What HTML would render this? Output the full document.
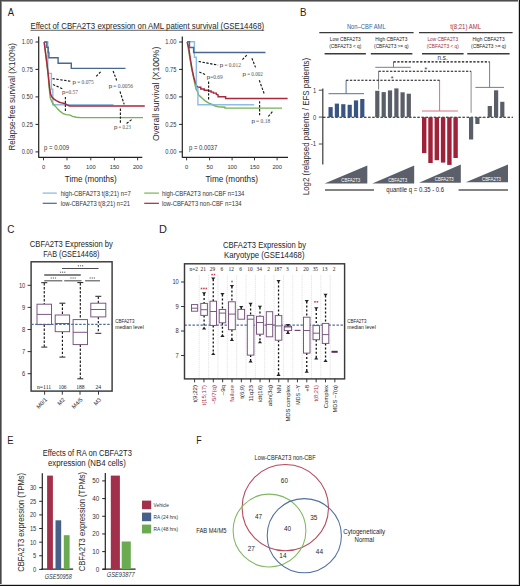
<!DOCTYPE html>
<html><head><meta charset="utf-8"><style>
html,body{margin:0;padding:0;background:#fff;}
body{width:520px;height:586px;overflow:hidden;position:relative;}
svg{position:absolute;left:0;top:0;font-family:"Liberation Sans", sans-serif;}
</style></head><body>
<svg width="520" height="586" viewBox="0 0 520 586" fill="#1e1e1e">
<rect x="0" y="0" width="520" height="586" fill="#fff"/>
<text x="7.85" y="16.20" font-size="11" textLength="6.30" lengthAdjust="spacingAndGlyphs" >A</text>
<text x="30.40" y="29.00" font-size="8.6" textLength="233.80" lengthAdjust="spacingAndGlyphs" >Effect of CBFA2T3 expression on AML patient survival (GSE14468)</text>
<line x1="30.40" y1="30.30" x2="264.20" y2="30.30" stroke="#222" stroke-width="0.7" />
<line x1="38.70" y1="36.50" x2="38.70" y2="157.80" stroke="#222" stroke-width="1.2" />
<line x1="38.70" y1="157.30" x2="142.30" y2="157.30" stroke="#222" stroke-width="1.2" />
<line x1="35.50" y1="42.00" x2="38.70" y2="42.00" stroke="#222" stroke-width="1.0" />
<text x="32.90" y="44.30" font-size="6.4" text-anchor="end" fill="#333" textLength="11.10" lengthAdjust="spacingAndGlyphs" >1.00</text>
<line x1="35.50" y1="69.40" x2="38.70" y2="69.40" stroke="#222" stroke-width="1.0" />
<text x="32.90" y="71.70" font-size="6.4" text-anchor="end" fill="#333" textLength="11.10" lengthAdjust="spacingAndGlyphs" >0.75</text>
<line x1="35.50" y1="96.90" x2="38.70" y2="96.90" stroke="#222" stroke-width="1.0" />
<text x="32.90" y="99.20" font-size="6.4" text-anchor="end" fill="#333" textLength="11.10" lengthAdjust="spacingAndGlyphs" >0.50</text>
<line x1="35.50" y1="124.40" x2="38.70" y2="124.40" stroke="#222" stroke-width="1.0" />
<text x="32.90" y="126.70" font-size="6.4" text-anchor="end" fill="#333" textLength="11.10" lengthAdjust="spacingAndGlyphs" >0.25</text>
<line x1="35.50" y1="151.90" x2="38.70" y2="151.90" stroke="#222" stroke-width="1.0" />
<text x="32.90" y="154.20" font-size="6.4" text-anchor="end" fill="#333" textLength="11.10" lengthAdjust="spacingAndGlyphs" >0.00</text>
<line x1="43.50" y1="157.30" x2="43.50" y2="160.30" stroke="#222" stroke-width="0.9" />
<text x="43.60" y="169.20" font-size="6.2" text-anchor="middle" fill="#333" textLength="3.20" lengthAdjust="spacingAndGlyphs" >0</text>
<line x1="67.00" y1="157.30" x2="67.00" y2="160.30" stroke="#222" stroke-width="0.9" />
<text x="67.10" y="169.20" font-size="6.2" text-anchor="middle" fill="#333" textLength="6.40" lengthAdjust="spacingAndGlyphs" >50</text>
<line x1="90.80" y1="157.30" x2="90.80" y2="160.30" stroke="#222" stroke-width="0.9" />
<text x="90.90" y="169.20" font-size="6.2" text-anchor="middle" fill="#333" textLength="9.60" lengthAdjust="spacingAndGlyphs" >100</text>
<line x1="114.40" y1="157.30" x2="114.40" y2="160.30" stroke="#222" stroke-width="0.9" />
<text x="114.50" y="169.20" font-size="6.2" text-anchor="middle" fill="#333" textLength="9.60" lengthAdjust="spacingAndGlyphs" >150</text>
<line x1="137.60" y1="157.30" x2="137.60" y2="160.30" stroke="#222" stroke-width="0.9" />
<text x="137.70" y="169.20" font-size="6.2" text-anchor="middle" fill="#333" textLength="9.60" lengthAdjust="spacingAndGlyphs" >200</text>
<text x="14.60" y="96.80" font-size="8.4" text-anchor="middle" fill="#2a2a2a" textLength="107.60" lengthAdjust="spacingAndGlyphs" transform="rotate(-90 14.60 96.80)" >Relapse-free survival (X100%)</text>
<text x="90.75" y="181.80" font-size="8.4" text-anchor="middle" textLength="51.90" lengthAdjust="spacingAndGlyphs" >Time (months)</text>
<line x1="182.30" y1="36.50" x2="182.30" y2="157.80" stroke="#222" stroke-width="1.2" />
<line x1="182.30" y1="157.30" x2="288.00" y2="157.30" stroke="#222" stroke-width="1.2" />
<line x1="179.10" y1="42.00" x2="182.30" y2="42.00" stroke="#222" stroke-width="1.0" />
<text x="176.40" y="44.30" font-size="6.4" text-anchor="end" fill="#333" textLength="11.10" lengthAdjust="spacingAndGlyphs" >1.00</text>
<line x1="179.10" y1="69.40" x2="182.30" y2="69.40" stroke="#222" stroke-width="1.0" />
<text x="176.40" y="71.70" font-size="6.4" text-anchor="end" fill="#333" textLength="11.10" lengthAdjust="spacingAndGlyphs" >0.75</text>
<line x1="179.10" y1="96.90" x2="182.30" y2="96.90" stroke="#222" stroke-width="1.0" />
<text x="176.40" y="99.20" font-size="6.4" text-anchor="end" fill="#333" textLength="11.10" lengthAdjust="spacingAndGlyphs" >0.50</text>
<line x1="179.10" y1="124.40" x2="182.30" y2="124.40" stroke="#222" stroke-width="1.0" />
<text x="176.40" y="126.70" font-size="6.4" text-anchor="end" fill="#333" textLength="11.10" lengthAdjust="spacingAndGlyphs" >0.25</text>
<line x1="179.10" y1="151.90" x2="182.30" y2="151.90" stroke="#222" stroke-width="1.0" />
<text x="176.40" y="154.20" font-size="6.4" text-anchor="end" fill="#333" textLength="11.10" lengthAdjust="spacingAndGlyphs" >0.00</text>
<line x1="186.60" y1="157.30" x2="186.60" y2="160.30" stroke="#222" stroke-width="0.9" />
<text x="186.70" y="169.20" font-size="6.2" text-anchor="middle" fill="#333" textLength="3.20" lengthAdjust="spacingAndGlyphs" >0</text>
<line x1="209.60" y1="157.30" x2="209.60" y2="160.30" stroke="#222" stroke-width="0.9" />
<text x="209.70" y="169.20" font-size="6.2" text-anchor="middle" fill="#333" textLength="6.40" lengthAdjust="spacingAndGlyphs" >50</text>
<line x1="232.10" y1="157.30" x2="232.10" y2="160.30" stroke="#222" stroke-width="0.9" />
<text x="232.20" y="169.20" font-size="6.2" text-anchor="middle" fill="#333" textLength="9.60" lengthAdjust="spacingAndGlyphs" >100</text>
<line x1="254.50" y1="157.30" x2="254.50" y2="160.30" stroke="#222" stroke-width="0.9" />
<text x="254.60" y="169.20" font-size="6.2" text-anchor="middle" fill="#333" textLength="9.60" lengthAdjust="spacingAndGlyphs" >150</text>
<line x1="277.10" y1="157.30" x2="277.10" y2="160.30" stroke="#222" stroke-width="0.9" />
<text x="277.20" y="169.20" font-size="6.2" text-anchor="middle" fill="#333" textLength="9.60" lengthAdjust="spacingAndGlyphs" >200</text>
<text x="158.60" y="93.90" font-size="8.4" text-anchor="middle" fill="#2a2a2a" textLength="94.40" lengthAdjust="spacingAndGlyphs" transform="rotate(-90 158.60 93.90)" >Overall survival (X100%)</text>
<text x="231.70" y="181.80" font-size="8.4" text-anchor="middle" textLength="52.60" lengthAdjust="spacingAndGlyphs" >Time (months)</text>
<path d="M44.00,42.00 L47.80,42.00 L47.80,73.40 L51.40,73.40 L51.40,89.20 L52.80,89.20 L52.80,104.70 L113.50,104.70 L113.50,104.70" stroke="#80b6e0" stroke-width="1.4" fill="none" opacity="0.9"/>
<path d="M44.20,42.00 L45.50,53.00 L47.00,65.00 L48.30,77.00 L49.00,86.00 L50.20,97.50 L51.70,101.40 L53.20,104.10 L55.50,106.40 L57.80,109.10 L60.20,111.40 L63.20,113.70 L66.30,114.60 L70.20,115.10 L72.50,116.40 L76.30,117.20 L80.20,117.60 L143.00,117.60" stroke="#76b258" stroke-width="1.4" fill="none" />
<path d="M44.20,42.00 L45.50,52.50 L47.00,64.00 L48.30,75.00 L49.00,82.00 L49.60,88.00 L50.50,93.70 L51.70,96.80 L54.00,99.10 L56.30,100.60 L59.40,102.20 L62.50,103.10 L65.20,103.70 L67.10,104.90 L69.40,106.00 L144.80,106.00" stroke="#a8283c" stroke-width="1.5" fill="none" />
<path d="M44.20,42.00 L46.80,42.00 L46.80,47.30 L48.20,47.30 L48.20,52.40 L48.90,52.40 L48.90,57.80 L58.10,57.80 L58.10,63.20 L71.30,63.20 L71.30,68.40 L125.50,68.40 L125.50,68.40" stroke="#4a6790" stroke-width="1.4" fill="none" />
<path d="M187.20,42.00 L188.80,52.00 L190.30,61.00 L191.70,69.00 L193.30,76.00 L194.80,83.70 L196.00,89.10 L197.50,91.40 L198.70,95.20 L200.20,96.40 L202.20,98.30 L204.80,100.60 L208.30,102.90 L212.20,104.50 L215.20,106.00 L218.30,106.80 L225.00,107.20 L225.00,108.10 L282.00,108.10" stroke="#76b258" stroke-width="1.4" fill="none" />
<path d="M187.20,42.00 L188.70,47.50 L190.40,59.00 L192.10,69.40 L193.80,77.50 L195.60,83.30 L197.10,86.70 L198.50,87.30 L200.80,87.30 L200.80,89.00 L204.20,89.00 L204.20,90.20 L207.70,90.20 L208.60,91.00 L211.10,91.00 L211.10,92.10 L213.40,92.10 L213.40,93.10 L216.30,93.10 L216.30,94.20 L218.10,95.00 L218.10,96.80 L225.60,96.80 L225.60,98.40 L287.60,98.40" stroke="#a8283c" stroke-width="1.45" fill="none" />
<path d="M187.20,41.80 L194.40,41.80 L194.40,57.30 L196.30,57.30 L196.30,88.00 L197.90,88.00 L197.90,104.80 L254.20,104.80" stroke="#80b6e0" stroke-width="1.4" fill="none" opacity="0.9"/>
<path d="M187.20,41.80 L189.50,41.80 L189.50,47.50 L193.60,47.50 L193.60,52.50 L265.50,52.50 L265.50,52.50" stroke="#4a6790" stroke-width="1.4" fill="none" />
<line x1="52.50" y1="78.60" x2="71.50" y2="81.40" stroke="#1a1a1a" stroke-width="1.15" stroke-dasharray="2.4,1.5" />
<text x="72.60" y="83.60" font-size="6.2" fill="#333" >p</text>
<text x="77.20" y="83.60" font-size="5.9" fill="#555" textLength="16.60" lengthAdjust="spacingAndGlyphs" font-family='"Liberation Serif", serif' >= 0.075</text>
<line x1="53.00" y1="84.50" x2="62.50" y2="88.80" stroke="#1a1a1a" stroke-width="1.15" stroke-dasharray="2.4,1.5" />
<text x="62.00" y="93.70" font-size="6.2" fill="#333" >p</text>
<text x="65.40" y="93.70" font-size="5.9" fill="#555" textLength="12.50" lengthAdjust="spacingAndGlyphs" font-family='"Liberation Serif", serif' >=0.57</text>
<line x1="65.40" y1="96.90" x2="65.40" y2="112.50" stroke="#1a1a1a" stroke-width="1.15" stroke-dasharray="2.4,1.5" />
<line x1="96.20" y1="76.30" x2="101.20" y2="71.20" stroke="#1a1a1a" stroke-width="1.15" stroke-dasharray="2.4,1.5" />
<line x1="113.10" y1="71.00" x2="116.70" y2="80.50" stroke="#1a1a1a" stroke-width="1.15" stroke-dasharray="2.4,1.5" />
<text x="108.70" y="88.30" font-size="6.2" fill="#333" >p</text>
<text x="113.30" y="88.30" font-size="5.9" fill="#555" textLength="19.70" lengthAdjust="spacingAndGlyphs" font-family='"Liberation Serif", serif' >= 0.0056</text>
<line x1="120.00" y1="91.50" x2="124.20" y2="104.40" stroke="#1a1a1a" stroke-width="1.15" stroke-dasharray="2.4,1.5" />
<line x1="120.40" y1="108.60" x2="120.40" y2="123.50" stroke="#1a1a1a" stroke-width="1.15" stroke-dasharray="2.4,1.5" />
<line x1="126.60" y1="123.50" x2="132.00" y2="119.30" stroke="#1a1a1a" stroke-width="1.15" stroke-dasharray="2.4,1.5" />
<text x="113.90" y="128.80" font-size="6.2" fill="#333" >p</text>
<text x="118.50" y="128.80" font-size="5.9" fill="#555" textLength="12.30" lengthAdjust="spacingAndGlyphs" font-family='"Liberation Serif", serif' >= 0.23</text>
<text x="44.00" y="149.60" font-size="7.0" fill="#333" textLength="25.10" lengthAdjust="spacingAndGlyphs" >p = 0.009</text>
<line x1="198.60" y1="61.50" x2="218.10" y2="65.10" stroke="#1a1a1a" stroke-width="1.15" stroke-dasharray="2.4,1.5" />
<text x="219.80" y="67.30" font-size="6.2" fill="#333" >p</text>
<text x="224.40" y="67.30" font-size="5.9" fill="#555" textLength="16.50" lengthAdjust="spacingAndGlyphs" font-family='"Liberation Serif", serif' >= 0.012</text>
<line x1="199.30" y1="72.00" x2="205.80" y2="74.90" stroke="#1a1a1a" stroke-width="1.15" stroke-dasharray="2.4,1.5" />
<text x="206.80" y="78.80" font-size="6.2" fill="#333" >p</text>
<text x="210.20" y="78.80" font-size="5.9" fill="#555" textLength="12.50" lengthAdjust="spacingAndGlyphs" font-family='"Liberation Serif", serif' >=0.69</text>
<line x1="208.60" y1="81.50" x2="208.60" y2="100.90" stroke="#1a1a1a" stroke-width="1.15" stroke-dasharray="2.4,1.5" />
<line x1="242.40" y1="59.70" x2="247.00" y2="54.90" stroke="#1a1a1a" stroke-width="1.15" stroke-dasharray="2.4,1.5" />
<line x1="251.90" y1="58.20" x2="255.50" y2="67.40" stroke="#1a1a1a" stroke-width="1.15" stroke-dasharray="2.4,1.5" />
<text x="242.60" y="76.40" font-size="6.2" fill="#333" >p</text>
<text x="247.20" y="76.40" font-size="5.9" fill="#555" textLength="15.60" lengthAdjust="spacingAndGlyphs" font-family='"Liberation Serif", serif' >= 0.002</text>
<line x1="259.30" y1="80.30" x2="264.50" y2="94.60" stroke="#1a1a1a" stroke-width="1.15" stroke-dasharray="2.4,1.5" />
<line x1="259.60" y1="101.20" x2="259.60" y2="116.70" stroke="#1a1a1a" stroke-width="1.15" stroke-dasharray="2.4,1.5" />
<line x1="268.30" y1="116.50" x2="272.90" y2="111.00" stroke="#1a1a1a" stroke-width="1.15" stroke-dasharray="2.4,1.5" />
<text x="251.50" y="123.00" font-size="6.2" fill="#333" >p</text>
<text x="256.10" y="123.00" font-size="5.9" fill="#555" textLength="14.10" lengthAdjust="spacingAndGlyphs" font-family='"Liberation Serif", serif' >= 0.18</text>
<text x="189.00" y="149.60" font-size="7.0" fill="#333" textLength="28.20" lengthAdjust="spacingAndGlyphs" >p = 0.0037</text>
<line x1="42.70" y1="193.10" x2="56.80" y2="193.10" stroke="#80b6e0" stroke-width="1.2" />
<text x="60.70" y="195.90" font-size="6.6" fill="#333" textLength="70.20" lengthAdjust="spacingAndGlyphs" >high-CBFA2T3 t(8;21) n=7</text>
<line x1="42.70" y1="203.30" x2="56.80" y2="203.30" stroke="#4a6790" stroke-width="1.2" />
<text x="60.70" y="205.60" font-size="6.6" fill="#333" textLength="69.30" lengthAdjust="spacingAndGlyphs" >low-CBFA2T3 t(8;21) n=21</text>
<line x1="144.20" y1="193.10" x2="158.90" y2="193.10" stroke="#76b258" stroke-width="1.2" />
<text x="161.90" y="195.90" font-size="6.6" fill="#333" textLength="82.50" lengthAdjust="spacingAndGlyphs" >high-CBFA2T3 non-CBF n=134</text>
<line x1="144.20" y1="203.30" x2="158.90" y2="203.30" stroke="#a8283c" stroke-width="1.2" />
<text x="161.90" y="205.60" font-size="6.6" fill="#333" textLength="79.70" lengthAdjust="spacingAndGlyphs" >low-CBFA2T3 non-CBF n=134</text>
<text x="300.10" y="16.30" font-size="11" textLength="6.50" lengthAdjust="spacingAndGlyphs" >B</text>
<text x="346.90" y="28.60" font-size="7.2" fill="#40609a" textLength="38.80" lengthAdjust="spacingAndGlyphs" >Non–CBF AML</text>
<text x="450.20" y="28.60" font-size="7.2" fill="#a62c42" textLength="30.80" lengthAdjust="spacingAndGlyphs" >t(8;21) AML</text>
<line x1="319.30" y1="32.60" x2="413.60" y2="32.60" stroke="#3a3a3a" stroke-width="1.4" />
<line x1="419.00" y1="32.60" x2="512.60" y2="32.60" stroke="#3a3a3a" stroke-width="1.4" />
<text x="345.30" y="41.30" font-size="5.5" text-anchor="middle" textLength="31.00" lengthAdjust="spacingAndGlyphs" >Low CBFA2T3</text>
<text x="345.30" y="47.50" font-size="5.5" text-anchor="middle" textLength="32.20" lengthAdjust="spacingAndGlyphs" >(CBFA2T3 &lt; q)</text>
<text x="391.40" y="41.30" font-size="5.5" text-anchor="middle" textLength="32.20" lengthAdjust="spacingAndGlyphs" >High CBFA2T3</text>
<text x="391.40" y="47.50" font-size="5.5" text-anchor="middle" textLength="34.60" lengthAdjust="spacingAndGlyphs" >(CBFA2T3 &gt;= q)</text>
<text x="442.80" y="41.30" font-size="5.5" text-anchor="middle" fill="#a62c42" textLength="30.70" lengthAdjust="spacingAndGlyphs" >Low CBFA2T3</text>
<text x="442.80" y="47.50" font-size="5.5" text-anchor="middle" fill="#a62c42" textLength="32.10" lengthAdjust="spacingAndGlyphs" >(CBFA2T3 &lt; q)</text>
<text x="488.60" y="41.30" font-size="5.5" text-anchor="middle" textLength="32.10" lengthAdjust="spacingAndGlyphs" >High CBFA2T3</text>
<text x="488.60" y="47.50" font-size="5.5" text-anchor="middle" textLength="35.00" lengthAdjust="spacingAndGlyphs" >(CBFA2T3 &gt;= q)</text>
<line x1="324.60" y1="53.75" x2="365.90" y2="53.75" stroke="#3a3a3a" stroke-width="1.4" />
<line x1="370.80" y1="53.75" x2="412.40" y2="53.75" stroke="#3a3a3a" stroke-width="1.4" />
<line x1="422.00" y1="53.75" x2="463.60" y2="53.75" stroke="#3a3a3a" stroke-width="1.4" />
<line x1="467.30" y1="53.75" x2="509.60" y2="53.75" stroke="#3a3a3a" stroke-width="1.4" />
<line x1="322.80" y1="88.50" x2="322.80" y2="164.60" stroke="#3a3a3a" stroke-width="1.2" />
<line x1="318.80" y1="90.20" x2="322.80" y2="90.20" stroke="#3a3a3a" stroke-width="0.9" />
<text x="316.20" y="92.60" font-size="6.6" text-anchor="end" fill="#333" textLength="3.20" lengthAdjust="spacingAndGlyphs" >1</text>
<line x1="318.80" y1="117.10" x2="322.80" y2="117.10" stroke="#3a3a3a" stroke-width="0.9" />
<text x="316.20" y="119.50" font-size="6.6" text-anchor="end" fill="#333" textLength="3.20" lengthAdjust="spacingAndGlyphs" >0</text>
<line x1="318.80" y1="144.00" x2="322.80" y2="144.00" stroke="#3a3a3a" stroke-width="0.9" />
<text x="316.20" y="146.40" font-size="6.6" text-anchor="end" fill="#333" textLength="5.40" lengthAdjust="spacingAndGlyphs" >-1</text>
<text x="308.90" y="126.50" font-size="8.2" text-anchor="middle" fill="#2a2a2a" textLength="137.40" lengthAdjust="spacingAndGlyphs" transform="rotate(-90 308.90 126.50)" >Log2 (relapsed patients / EFS patients)</text>
<line x1="323.00" y1="117.20" x2="513.00" y2="117.20" stroke="#111" stroke-width="1.15" stroke-dasharray="2.5,1.6" />
<rect x="328.50" y="107.10" width="4.20" height="10.10" fill="#3a5582" stroke="none" stroke-width="0" />
<rect x="334.80" y="103.60" width="4.20" height="13.60" fill="#3a5582" stroke="none" stroke-width="0" />
<rect x="341.20" y="104.20" width="4.20" height="13.00" fill="#3a5582" stroke="none" stroke-width="0" />
<rect x="347.60" y="104.80" width="4.20" height="12.40" fill="#3a5582" stroke="none" stroke-width="0" />
<rect x="353.90" y="100.40" width="4.20" height="16.80" fill="#3a5582" stroke="none" stroke-width="0" />
<rect x="360.20" y="99.00" width="4.20" height="18.20" fill="#3a5582" stroke="none" stroke-width="0" />
<rect x="375.20" y="90.80" width="4.20" height="26.40" fill="#5a5e68" stroke="none" stroke-width="0" />
<rect x="381.60" y="92.10" width="4.20" height="25.10" fill="#5a5e68" stroke="none" stroke-width="0" />
<rect x="387.90" y="90.40" width="4.20" height="26.80" fill="#5a5e68" stroke="none" stroke-width="0" />
<rect x="394.30" y="88.40" width="4.20" height="28.80" fill="#5a5e68" stroke="none" stroke-width="0" />
<rect x="400.50" y="92.30" width="4.20" height="24.90" fill="#5a5e68" stroke="none" stroke-width="0" />
<rect x="406.70" y="93.70" width="4.20" height="23.50" fill="#5a5e68" stroke="none" stroke-width="0" />
<rect x="422.00" y="117.20" width="4.40" height="35.90" fill="#a0223a" stroke="none" stroke-width="0" />
<rect x="428.30" y="117.20" width="4.40" height="45.80" fill="#a0223a" stroke="none" stroke-width="0" />
<rect x="434.60" y="117.20" width="4.40" height="43.00" fill="#a0223a" stroke="none" stroke-width="0" />
<rect x="440.90" y="117.20" width="4.40" height="45.40" fill="#a0223a" stroke="none" stroke-width="0" />
<rect x="447.20" y="117.20" width="4.40" height="47.70" fill="#a0223a" stroke="none" stroke-width="0" />
<rect x="453.40" y="117.20" width="4.40" height="40.80" fill="#a0223a" stroke="none" stroke-width="0" />
<rect x="469.00" y="117.20" width="4.20" height="22.30" fill="#5a5e68" stroke="none" stroke-width="0" />
<rect x="475.30" y="117.20" width="4.20" height="6.80" fill="#5a5e68" stroke="none" stroke-width="0" />
<rect x="481.60" y="117.20" width="4.20" height="0.40" fill="#5a5e68" stroke="none" stroke-width="0" />
<rect x="487.70" y="106.00" width="4.20" height="11.20" fill="#5a5e68" stroke="none" stroke-width="0" />
<rect x="494.00" y="90.30" width="4.20" height="26.90" fill="#5a5e68" stroke="none" stroke-width="0" />
<rect x="500.20" y="101.80" width="4.20" height="15.40" fill="#5a5e68" stroke="none" stroke-width="0" />
<line x1="328.50" y1="93.70" x2="364.00" y2="93.70" stroke="#56709a" stroke-width="1.0" />
<line x1="346.10" y1="93.70" x2="346.10" y2="80.30" stroke="#56709a" stroke-width="1.0" />
<line x1="375.30" y1="67.30" x2="410.80" y2="67.30" stroke="#7a7e88" stroke-width="1.0" />
<line x1="393.50" y1="67.30" x2="393.50" y2="61.90" stroke="#7a7e88" stroke-width="1.0" />
<line x1="378.60" y1="71.30" x2="378.60" y2="89.50" stroke="#7a7e88" stroke-width="1.0" />
<line x1="422.00" y1="111.00" x2="457.90" y2="111.00" stroke="#d87080" stroke-width="1.0" />
<line x1="439.60" y1="111.00" x2="439.60" y2="80.30" stroke="#d87080" stroke-width="1.0" />
<line x1="471.10" y1="71.30" x2="471.10" y2="112.80" stroke="#8a8e98" stroke-width="1.0" />
<line x1="475.40" y1="87.40" x2="504.00" y2="87.40" stroke="#7a7e88" stroke-width="1.0" />
<line x1="489.60" y1="87.40" x2="489.60" y2="61.90" stroke="#7a7e88" stroke-width="1.0" />
<line x1="346.10" y1="80.30" x2="439.60" y2="80.30" stroke="#111" stroke-width="1.1" stroke-dasharray="2.3,1.5" />
<line x1="378.60" y1="71.30" x2="471.10" y2="71.30" stroke="#111" stroke-width="1.1" stroke-dasharray="2.3,1.5" />
<line x1="393.50" y1="61.90" x2="489.60" y2="61.90" stroke="#111" stroke-width="1.1" stroke-dasharray="2.3,1.5" />
<text x="392.00" y="81.00" font-size="7" text-anchor="middle" fill="#333" >*</text>
<text x="425.80" y="72.00" font-size="7" text-anchor="middle" fill="#333" >*</text>
<text x="442.70" y="60.20" font-size="6.4" text-anchor="middle" fill="#333" >n.s.</text>
<path d="M324.60,183.50 L367.30,165.60 L367.30,183.50 Z" fill="#5a5f6a"/>
<text x="350.80" y="181.90" font-size="5.0" text-anchor="middle" fill="#fff" textLength="19.00" lengthAdjust="spacingAndGlyphs" >CBFA2T3</text>
<path d="M372.30,183.50 L414.20,165.60 L414.20,183.50 Z" fill="#5a5f6a"/>
<text x="397.70" y="181.90" font-size="5.0" text-anchor="middle" fill="#fff" textLength="19.00" lengthAdjust="spacingAndGlyphs" >CBFA2T3</text>
<path d="M419.00,182.80 L460.80,164.60 L460.80,182.80 Z" fill="#5a5f6a"/>
<text x="444.30" y="181.20" font-size="5.0" text-anchor="middle" fill="#fff" textLength="19.00" lengthAdjust="spacingAndGlyphs" >CBFA2T3</text>
<path d="M465.80,182.30 L508.00,164.50 L508.00,182.30 Z" fill="#5a5f6a"/>
<text x="491.50" y="180.70" font-size="5.0" text-anchor="middle" fill="#fff" textLength="19.00" lengthAdjust="spacingAndGlyphs" >CBFA2T3</text>
<line x1="325.00" y1="189.90" x2="374.00" y2="189.90" stroke="#5a5a5a" stroke-width="1.5" />
<line x1="458.60" y1="189.90" x2="508.00" y2="189.90" stroke="#5a5a5a" stroke-width="1.5" />
<text x="415.20" y="192.30" font-size="6.4" text-anchor="middle" textLength="57.70" lengthAdjust="spacingAndGlyphs" >quantile q = 0.35 - 0.6</text>
<text x="7.20" y="232.60" font-size="11" textLength="7.20" lengthAdjust="spacingAndGlyphs" >C</text>
<text x="29.80" y="247.10" font-size="8.4" textLength="83.10" lengthAdjust="spacingAndGlyphs" >CBFA2T3 Expression by</text>
<text x="43.30" y="257.30" font-size="8.4" textLength="56.10" lengthAdjust="spacingAndGlyphs" >FAB (GSE14468)</text>
<rect x="31.1" y="261.8" width="81.0" height="129.3" fill="none" stroke="#3a3a3a" stroke-width="1.45"/>
<line x1="27.60" y1="285.30" x2="31.20" y2="285.30" stroke="#222" stroke-width="0.9" />
<text x="25.30" y="287.65" font-size="6.6" text-anchor="end" fill="#333" textLength="6.40" lengthAdjust="spacingAndGlyphs" >10</text>
<line x1="27.60" y1="307.40" x2="31.20" y2="307.40" stroke="#222" stroke-width="0.9" />
<text x="25.30" y="309.75" font-size="6.6" text-anchor="end" fill="#333" textLength="3.20" lengthAdjust="spacingAndGlyphs" >9</text>
<line x1="27.60" y1="329.50" x2="31.20" y2="329.50" stroke="#222" stroke-width="0.9" />
<text x="25.30" y="331.85" font-size="6.6" text-anchor="end" fill="#333" textLength="3.20" lengthAdjust="spacingAndGlyphs" >8</text>
<line x1="27.60" y1="351.60" x2="31.20" y2="351.60" stroke="#222" stroke-width="0.9" />
<text x="25.30" y="353.95" font-size="6.6" text-anchor="end" fill="#333" textLength="3.20" lengthAdjust="spacingAndGlyphs" >7</text>
<line x1="27.60" y1="373.70" x2="31.20" y2="373.70" stroke="#222" stroke-width="0.9" />
<text x="25.30" y="376.05" font-size="6.6" text-anchor="end" fill="#333" textLength="3.20" lengthAdjust="spacingAndGlyphs" >6</text>
<line x1="62.00" y1="268.50" x2="98.50" y2="268.50" stroke="#4a4a4a" stroke-width="1.0" />
<rect x="77.80" y="265.30" width="1.20" height="1.00" fill="#555" stroke="none" stroke-width="0" />
<rect x="79.90" y="265.30" width="1.20" height="1.00" fill="#555" stroke="none" stroke-width="0" />
<rect x="82.00" y="265.30" width="1.20" height="1.00" fill="#555" stroke="none" stroke-width="0" />
<line x1="44.20" y1="274.90" x2="80.80" y2="274.90" stroke="#5a5a5a" stroke-width="1.5" />
<rect x="59.90" y="271.70" width="1.20" height="1.00" fill="#555" stroke="none" stroke-width="0" />
<rect x="62.00" y="271.70" width="1.20" height="1.00" fill="#555" stroke="none" stroke-width="0" />
<rect x="64.10" y="271.70" width="1.20" height="1.00" fill="#555" stroke="none" stroke-width="0" />
<line x1="44.20" y1="280.80" x2="62.30" y2="280.80" stroke="#555" stroke-width="1.1" />
<rect x="50.70" y="277.50" width="1.20" height="1.00" fill="#555" stroke="none" stroke-width="0" />
<rect x="52.80" y="277.50" width="1.20" height="1.00" fill="#555" stroke="none" stroke-width="0" />
<rect x="54.90" y="277.50" width="1.20" height="1.00" fill="#555" stroke="none" stroke-width="0" />
<line x1="64.20" y1="280.80" x2="81.50" y2="280.80" stroke="#555" stroke-width="1.1" />
<rect x="70.40" y="277.50" width="1.20" height="1.00" fill="#555" stroke="none" stroke-width="0" />
<rect x="72.50" y="277.50" width="1.20" height="1.00" fill="#555" stroke="none" stroke-width="0" />
<rect x="74.60" y="277.50" width="1.20" height="1.00" fill="#555" stroke="none" stroke-width="0" />
<line x1="85.10" y1="280.80" x2="100.00" y2="280.80" stroke="#555" stroke-width="1.1" />
<rect x="89.60" y="277.50" width="1.20" height="1.00" fill="#555" stroke="none" stroke-width="0" />
<rect x="91.70" y="277.50" width="1.20" height="1.00" fill="#555" stroke="none" stroke-width="0" />
<rect x="93.80" y="277.50" width="1.20" height="1.00" fill="#555" stroke="none" stroke-width="0" />
<line x1="44.25" y1="283.10" x2="44.25" y2="304.20" stroke="#111" stroke-width="1.1" stroke-dasharray="2.4,1.6" />
<line x1="41.25" y1="282.70" x2="47.25" y2="282.70" stroke="#222" stroke-width="1.0" />
<line x1="44.25" y1="324.60" x2="44.25" y2="346.70" stroke="#111" stroke-width="1.1" stroke-dasharray="2.4,1.6" />
<line x1="41.25" y1="347.10" x2="47.25" y2="347.10" stroke="#222" stroke-width="1.0" />
<rect x="37.00" y="304.20" width="14.50" height="20.40" fill="#fff" stroke="#74507a" stroke-width="0.95"/>
<line x1="37.00" y1="314.40" x2="51.50" y2="314.40" stroke="#74507a" stroke-width="0.95" />
<line x1="62.40" y1="303.60" x2="62.40" y2="315.00" stroke="#111" stroke-width="1.1" stroke-dasharray="2.4,1.6" />
<line x1="59.40" y1="303.20" x2="65.40" y2="303.20" stroke="#222" stroke-width="1.0" />
<line x1="62.40" y1="331.70" x2="62.40" y2="356.70" stroke="#111" stroke-width="1.1" stroke-dasharray="2.4,1.6" />
<line x1="59.40" y1="357.10" x2="65.40" y2="357.10" stroke="#222" stroke-width="1.0" />
<rect x="55.20" y="315.00" width="14.40" height="16.70" fill="#fff" stroke="#74507a" stroke-width="0.95"/>
<line x1="55.20" y1="323.50" x2="69.60" y2="323.50" stroke="#74507a" stroke-width="0.95" />
<line x1="80.30" y1="283.00" x2="80.30" y2="319.60" stroke="#111" stroke-width="1.1" stroke-dasharray="2.4,1.6" />
<line x1="77.30" y1="282.60" x2="83.30" y2="282.60" stroke="#222" stroke-width="1.0" />
<line x1="80.30" y1="344.60" x2="80.30" y2="378.40" stroke="#111" stroke-width="1.1" stroke-dasharray="2.4,1.6" />
<line x1="77.30" y1="378.80" x2="83.30" y2="378.80" stroke="#222" stroke-width="1.0" />
<rect x="73.10" y="319.60" width="14.40" height="25.00" fill="#fff" stroke="#74507a" stroke-width="0.95"/>
<line x1="73.10" y1="332.30" x2="87.50" y2="332.30" stroke="#74507a" stroke-width="0.95" />
<line x1="98.30" y1="296.70" x2="98.30" y2="303.20" stroke="#111" stroke-width="1.1" stroke-dasharray="2.4,1.6" />
<line x1="95.30" y1="296.30" x2="101.30" y2="296.30" stroke="#222" stroke-width="1.0" />
<line x1="98.30" y1="316.90" x2="98.30" y2="332.90" stroke="#111" stroke-width="1.1" stroke-dasharray="2.4,1.6" />
<line x1="95.30" y1="333.30" x2="101.30" y2="333.30" stroke="#222" stroke-width="1.0" />
<rect x="90.80" y="303.20" width="15.00" height="13.70" fill="#fff" stroke="#74507a" stroke-width="0.95"/>
<line x1="90.80" y1="309.50" x2="105.80" y2="309.50" stroke="#74507a" stroke-width="0.95" />
<line x1="31.20" y1="324.40" x2="112.10" y2="324.40" stroke="#4a6c9c" stroke-width="1.1" stroke-dasharray="2.4,1.6" />
<text x="115.20" y="322.70" font-size="5.2" textLength="19.40" lengthAdjust="spacingAndGlyphs" >CBFA2T3</text>
<text x="115.20" y="329.20" font-size="5.2" textLength="28.60" lengthAdjust="spacingAndGlyphs" >median level</text>
<text x="36.90" y="389.20" font-size="5.8" textLength="14.30" lengthAdjust="spacingAndGlyphs" font-family='"Liberation Serif", serif' >n=111</text>
<text x="62.50" y="389.20" font-size="5.8" text-anchor="middle" textLength="8.10" lengthAdjust="spacingAndGlyphs" font-family='"Liberation Serif", serif' >106</text>
<text x="80.40" y="389.20" font-size="5.8" text-anchor="middle" textLength="8.40" lengthAdjust="spacingAndGlyphs" font-family='"Liberation Serif", serif' >188</text>
<text x="98.30" y="389.20" font-size="5.8" text-anchor="middle" textLength="5.70" lengthAdjust="spacingAndGlyphs" font-family='"Liberation Serif", serif' >24</text>
<line x1="44.60" y1="391.20" x2="44.60" y2="394.70" stroke="#222" stroke-width="0.9" />
<text x="47.60" y="400.10" font-size="5.7" text-anchor="end" transform="rotate(-45 47.60 400.10)" >M0/1</text>
<line x1="62.30" y1="391.20" x2="62.30" y2="394.70" stroke="#222" stroke-width="0.9" />
<text x="65.30" y="400.10" font-size="5.7" text-anchor="end" transform="rotate(-45 65.30 400.10)" >M2</text>
<line x1="80.00" y1="391.20" x2="80.00" y2="394.70" stroke="#222" stroke-width="0.9" />
<text x="83.00" y="400.10" font-size="5.7" text-anchor="end" transform="rotate(-45 83.00 400.10)" >M4/5</text>
<line x1="98.50" y1="391.20" x2="98.50" y2="394.70" stroke="#222" stroke-width="0.9" />
<text x="101.50" y="400.10" font-size="5.7" text-anchor="end" transform="rotate(-45 101.50 400.10)" >M3</text>
<text x="159.00" y="232.60" font-size="11" textLength="7.90" lengthAdjust="spacingAndGlyphs" >D</text>
<text x="223.00" y="248.00" font-size="8.4" textLength="83.00" lengthAdjust="spacingAndGlyphs" >CBFA2T3 Expression by</text>
<text x="224.00" y="258.20" font-size="8.4" textLength="80.50" lengthAdjust="spacingAndGlyphs" >Karyotype (GSE14468)</text>
<line x1="199.27" y1="275.40" x2="199.27" y2="378.90" stroke="#bbb" stroke-width="0.6" stroke-dasharray="0.8,1.2" />
<line x1="208.62" y1="275.40" x2="208.62" y2="378.90" stroke="#bbb" stroke-width="0.6" stroke-dasharray="0.8,1.2" />
<line x1="217.97" y1="275.40" x2="217.97" y2="378.90" stroke="#bbb" stroke-width="0.6" stroke-dasharray="0.8,1.2" />
<line x1="227.32" y1="275.40" x2="227.32" y2="378.90" stroke="#bbb" stroke-width="0.6" stroke-dasharray="0.8,1.2" />
<line x1="236.67" y1="275.40" x2="236.67" y2="378.90" stroke="#bbb" stroke-width="0.6" stroke-dasharray="0.8,1.2" />
<line x1="246.02" y1="275.40" x2="246.02" y2="378.90" stroke="#bbb" stroke-width="0.6" stroke-dasharray="0.8,1.2" />
<line x1="255.37" y1="275.40" x2="255.37" y2="378.90" stroke="#bbb" stroke-width="0.6" stroke-dasharray="0.8,1.2" />
<line x1="264.72" y1="275.40" x2="264.72" y2="378.90" stroke="#bbb" stroke-width="0.6" stroke-dasharray="0.8,1.2" />
<line x1="274.07" y1="275.40" x2="274.07" y2="378.90" stroke="#bbb" stroke-width="0.6" stroke-dasharray="0.8,1.2" />
<line x1="283.42" y1="275.40" x2="283.42" y2="378.90" stroke="#bbb" stroke-width="0.6" stroke-dasharray="0.8,1.2" />
<line x1="292.77" y1="275.40" x2="292.77" y2="378.90" stroke="#bbb" stroke-width="0.6" stroke-dasharray="0.8,1.2" />
<line x1="302.12" y1="275.40" x2="302.12" y2="378.90" stroke="#bbb" stroke-width="0.6" stroke-dasharray="0.8,1.2" />
<line x1="311.47" y1="275.40" x2="311.47" y2="378.90" stroke="#bbb" stroke-width="0.6" stroke-dasharray="0.8,1.2" />
<line x1="320.82" y1="275.40" x2="320.82" y2="378.90" stroke="#bbb" stroke-width="0.6" stroke-dasharray="0.8,1.2" />
<line x1="330.17" y1="275.40" x2="330.17" y2="378.90" stroke="#bbb" stroke-width="0.6" stroke-dasharray="0.8,1.2" />
<line x1="184.50" y1="325.10" x2="344.60" y2="325.10" stroke="#4a6c9c" stroke-width="1.1" stroke-dasharray="2.4,1.6" />
<rect x="184.5" y="263.8" width="160.1" height="115.1" fill="none" stroke="#3a3a3a" stroke-width="1.45"/>
<line x1="181.00" y1="282.00" x2="184.50" y2="282.00" stroke="#222" stroke-width="0.9" />
<text x="178.80" y="284.35" font-size="6.6" text-anchor="end" fill="#333" textLength="6.40" lengthAdjust="spacingAndGlyphs" >10</text>
<line x1="181.00" y1="306.50" x2="184.50" y2="306.50" stroke="#222" stroke-width="0.9" />
<text x="178.80" y="308.85" font-size="6.6" text-anchor="end" fill="#333" textLength="3.20" lengthAdjust="spacingAndGlyphs" >9</text>
<line x1="181.00" y1="331.00" x2="184.50" y2="331.00" stroke="#222" stroke-width="0.9" />
<text x="178.80" y="333.35" font-size="6.6" text-anchor="end" fill="#333" textLength="3.20" lengthAdjust="spacingAndGlyphs" >8</text>
<line x1="181.00" y1="355.50" x2="184.50" y2="355.50" stroke="#222" stroke-width="0.9" />
<text x="178.80" y="357.85" font-size="6.6" text-anchor="end" fill="#333" textLength="3.20" lengthAdjust="spacingAndGlyphs" >7</text>
<text x="193.80" y="270.80" font-size="5.4" text-anchor="middle" font-family='"Liberation Serif", serif' >n=2</text>
<text x="203.15" y="270.80" font-size="5.4" text-anchor="middle" font-family='"Liberation Serif", serif' >21</text>
<text x="212.50" y="270.80" font-size="5.4" text-anchor="middle" font-family='"Liberation Serif", serif' >29</text>
<text x="221.85" y="270.80" font-size="5.4" text-anchor="middle" font-family='"Liberation Serif", serif' >6</text>
<text x="231.20" y="270.80" font-size="5.4" text-anchor="middle" font-family='"Liberation Serif", serif' >12</text>
<text x="240.55" y="270.80" font-size="5.4" text-anchor="middle" font-family='"Liberation Serif", serif' >6</text>
<text x="249.90" y="270.80" font-size="5.4" text-anchor="middle" font-family='"Liberation Serif", serif' >10</text>
<text x="259.25" y="270.80" font-size="5.4" text-anchor="middle" font-family='"Liberation Serif", serif' >34</text>
<text x="268.60" y="270.80" font-size="5.4" text-anchor="middle" font-family='"Liberation Serif", serif' >2</text>
<text x="277.95" y="270.80" font-size="5.4" text-anchor="middle" font-family='"Liberation Serif", serif' >187</text>
<text x="287.30" y="270.80" font-size="5.4" text-anchor="middle" font-family='"Liberation Serif", serif' >3</text>
<text x="296.65" y="270.80" font-size="5.4" text-anchor="middle" font-family='"Liberation Serif", serif' >1</text>
<text x="306.00" y="270.80" font-size="5.4" text-anchor="middle" font-family='"Liberation Serif", serif' >20</text>
<text x="315.35" y="270.80" font-size="5.4" text-anchor="middle" font-family='"Liberation Serif", serif' >35</text>
<text x="324.70" y="270.80" font-size="5.4" text-anchor="middle" font-family='"Liberation Serif", serif' >13</text>
<text x="334.05" y="270.80" font-size="5.4" text-anchor="middle" font-family='"Liberation Serif", serif' >2</text>
<rect x="191.50" y="304.60" width="6.20" height="6.60" fill="#fff" stroke="#74507a" stroke-width="0.95"/>
<line x1="191.50" y1="308.20" x2="197.70" y2="308.20" stroke="#74507a" stroke-width="0.95" />
<line x1="204.10" y1="293.90" x2="204.10" y2="303.40" stroke="#111" stroke-width="1.3" stroke-dasharray="2,2" />
<path d="M202.00,292.20 L206.20,292.20 L204.10,295.00 Z" fill="#222"/>
<line x1="204.10" y1="315.40" x2="204.10" y2="327.80" stroke="#111" stroke-width="1.3" stroke-dasharray="2,2" />
<path d="M202.00,329.50 L206.20,329.50 L204.10,326.70 Z" fill="#222"/>
<rect x="200.80" y="303.40" width="6.60" height="12.00" fill="#fff" stroke="#74507a" stroke-width="0.95"/>
<line x1="200.80" y1="309.70" x2="207.40" y2="309.70" stroke="#74507a" stroke-width="0.95" />
<line x1="213.25" y1="279.20" x2="213.25" y2="301.20" stroke="#111" stroke-width="1.3" stroke-dasharray="2,2" />
<path d="M211.15,277.50 L215.35,277.50 L213.25,280.30 Z" fill="#222"/>
<line x1="213.25" y1="325.40" x2="213.25" y2="353.40" stroke="#111" stroke-width="1.3" stroke-dasharray="2,2" />
<path d="M211.15,355.10 L215.35,355.10 L213.25,352.30 Z" fill="#222"/>
<rect x="210.00" y="301.20" width="6.50" height="24.20" fill="#fff" stroke="#74507a" stroke-width="0.95"/>
<line x1="210.00" y1="311.50" x2="216.50" y2="311.50" stroke="#74507a" stroke-width="0.95" />
<line x1="222.45" y1="294.60" x2="222.45" y2="309.50" stroke="#111" stroke-width="1.3" stroke-dasharray="2,2" />
<path d="M220.35,292.90 L224.55,292.90 L222.45,295.70 Z" fill="#222"/>
<line x1="222.45" y1="322.80" x2="222.45" y2="335.20" stroke="#111" stroke-width="1.3" stroke-dasharray="2,2" />
<path d="M220.35,336.90 L224.55,336.90 L222.45,334.10 Z" fill="#222"/>
<rect x="219.20" y="309.50" width="6.50" height="13.30" fill="#fff" stroke="#74507a" stroke-width="0.95"/>
<line x1="219.20" y1="313.10" x2="225.70" y2="313.10" stroke="#74507a" stroke-width="0.95" />
<line x1="231.90" y1="286.60" x2="231.90" y2="301.80" stroke="#111" stroke-width="1.3" stroke-dasharray="2,2" />
<path d="M229.80,284.90 L234.00,284.90 L231.90,287.70 Z" fill="#222"/>
<line x1="231.90" y1="329.70" x2="231.90" y2="339.30" stroke="#111" stroke-width="1.3" stroke-dasharray="2,2" />
<path d="M229.80,341.00 L234.00,341.00 L231.90,338.20 Z" fill="#222"/>
<rect x="228.50" y="301.80" width="6.80" height="27.90" fill="#fff" stroke="#74507a" stroke-width="0.95"/>
<line x1="228.50" y1="314.10" x2="235.30" y2="314.10" stroke="#74507a" stroke-width="0.95" />
<line x1="241.25" y1="307.60" x2="241.25" y2="309.40" stroke="#111" stroke-width="1.3" stroke-dasharray="2,2" />
<path d="M239.15,305.90 L243.35,305.90 L241.25,308.70 Z" fill="#222"/>
<rect x="237.90" y="309.40" width="6.70" height="9.80" fill="#fff" stroke="#74507a" stroke-width="0.95"/>
<line x1="250.60" y1="304.40" x2="250.60" y2="315.40" stroke="#111" stroke-width="1.3" stroke-dasharray="2,2" />
<path d="M248.50,302.70 L252.70,302.70 L250.60,305.50 Z" fill="#222"/>
<line x1="250.60" y1="355.10" x2="250.60" y2="360.80" stroke="#111" stroke-width="1.3" stroke-dasharray="2,2" />
<path d="M248.50,362.50 L252.70,362.50 L250.60,359.70 Z" fill="#222"/>
<rect x="247.30" y="315.40" width="6.60" height="39.70" fill="#fff" stroke="#74507a" stroke-width="0.95"/>
<line x1="247.30" y1="319.20" x2="253.90" y2="319.20" stroke="#74507a" stroke-width="0.95" />
<line x1="259.95" y1="307.40" x2="259.95" y2="316.30" stroke="#111" stroke-width="1.3" stroke-dasharray="2,2" />
<path d="M257.85,305.70 L262.05,305.70 L259.95,308.50 Z" fill="#222"/>
<line x1="259.95" y1="334.20" x2="259.95" y2="341.60" stroke="#111" stroke-width="1.3" stroke-dasharray="2,2" />
<path d="M257.85,343.30 L262.05,343.30 L259.95,340.50 Z" fill="#222"/>
<rect x="256.50" y="316.30" width="6.90" height="17.90" fill="#fff" stroke="#74507a" stroke-width="0.95"/>
<line x1="256.50" y1="322.50" x2="263.40" y2="322.50" stroke="#74507a" stroke-width="0.95" />
<rect x="266.30" y="311.70" width="6.40" height="25.10" fill="#fff" stroke="#74507a" stroke-width="0.95"/>
<line x1="266.30" y1="324.40" x2="272.70" y2="324.40" stroke="#74507a" stroke-width="0.95" />
<line x1="278.55" y1="281.60" x2="278.55" y2="315.60" stroke="#111" stroke-width="1.3" stroke-dasharray="2,2" />
<path d="M276.45,279.90 L280.65,279.90 L278.55,282.70 Z" fill="#222"/>
<line x1="278.55" y1="340.20" x2="278.55" y2="374.20" stroke="#111" stroke-width="1.3" stroke-dasharray="2,2" />
<path d="M276.45,375.90 L280.65,375.90 L278.55,373.10 Z" fill="#222"/>
<rect x="275.30" y="315.60" width="6.50" height="24.60" fill="#fff" stroke="#74507a" stroke-width="0.95"/>
<line x1="275.30" y1="325.90" x2="281.80" y2="325.90" stroke="#74507a" stroke-width="0.95" />
<line x1="287.95" y1="325.80" x2="287.95" y2="326.30" stroke="#111" stroke-width="1.3" stroke-dasharray="2,2" />
<path d="M285.85,324.10 L290.05,324.10 L287.95,326.90 Z" fill="#222"/>
<line x1="287.95" y1="330.60" x2="287.95" y2="332.20" stroke="#111" stroke-width="1.3" stroke-dasharray="2,2" />
<path d="M285.85,333.90 L290.05,333.90 L287.95,331.10 Z" fill="#222"/>
<rect x="284.30" y="326.30" width="7.30" height="4.30" fill="#fff" stroke="#74507a" stroke-width="0.95"/>
<line x1="284.30" y1="327.00" x2="291.60" y2="327.00" stroke="#74507a" stroke-width="0.95" />
<line x1="294.60" y1="330.40" x2="300.50" y2="330.40" stroke="#704876" stroke-width="1.2" />
<line x1="306.75" y1="301.60" x2="306.75" y2="317.20" stroke="#111" stroke-width="1.3" stroke-dasharray="2,2" />
<path d="M304.65,299.90 L308.85,299.90 L306.75,302.70 Z" fill="#222"/>
<line x1="306.75" y1="353.10" x2="306.75" y2="371.10" stroke="#111" stroke-width="1.3" stroke-dasharray="2,2" />
<path d="M304.65,372.80 L308.85,372.80 L306.75,370.00 Z" fill="#222"/>
<rect x="303.50" y="317.20" width="6.50" height="35.90" fill="#fff" stroke="#74507a" stroke-width="0.95"/>
<line x1="303.50" y1="330.50" x2="310.00" y2="330.50" stroke="#74507a" stroke-width="0.95" />
<line x1="316.25" y1="308.90" x2="316.25" y2="325.60" stroke="#111" stroke-width="1.3" stroke-dasharray="2,2" />
<path d="M314.15,307.20 L318.35,307.20 L316.25,310.00 Z" fill="#222"/>
<line x1="316.25" y1="339.70" x2="316.25" y2="357.80" stroke="#111" stroke-width="1.3" stroke-dasharray="2,2" />
<path d="M314.15,359.50 L318.35,359.50 L316.25,356.70 Z" fill="#222"/>
<rect x="313.00" y="325.60" width="6.50" height="14.10" fill="#fff" stroke="#74507a" stroke-width="0.95"/>
<line x1="313.00" y1="333.20" x2="319.50" y2="333.20" stroke="#74507a" stroke-width="0.95" />
<line x1="325.55" y1="295.50" x2="325.55" y2="323.40" stroke="#111" stroke-width="1.3" stroke-dasharray="2,2" />
<path d="M323.45,293.80 L327.65,293.80 L325.55,296.60 Z" fill="#222"/>
<line x1="325.55" y1="343.40" x2="325.55" y2="360.40" stroke="#111" stroke-width="1.3" stroke-dasharray="2,2" />
<path d="M323.45,362.10 L327.65,362.10 L325.55,359.30 Z" fill="#222"/>
<rect x="322.30" y="323.40" width="6.50" height="20.00" fill="#fff" stroke="#74507a" stroke-width="0.95"/>
<line x1="322.30" y1="334.60" x2="328.80" y2="334.60" stroke="#74507a" stroke-width="0.95" />
<line x1="331.50" y1="351.80" x2="337.70" y2="351.80" stroke="#5a2a5a" stroke-width="2.0" />
<rect x="200.70" y="287.70" width="1.60" height="1.60" fill="#c84858" stroke="none" stroke-width="0" />
<rect x="203.10" y="287.70" width="1.60" height="1.60" fill="#c84858" stroke="none" stroke-width="0" />
<rect x="205.50" y="287.70" width="1.60" height="1.60" fill="#c84858" stroke="none" stroke-width="0" />
<rect x="211.30" y="273.80" width="1.60" height="1.60" fill="#c84858" stroke="none" stroke-width="0" />
<rect x="213.70" y="273.80" width="1.60" height="1.60" fill="#c84858" stroke="none" stroke-width="0" />
<rect x="231.20" y="280.70" width="1.60" height="1.60" fill="#c84858" stroke="none" stroke-width="0" />
<rect x="314.20" y="301.00" width="1.60" height="1.60" fill="#c84858" stroke="none" stroke-width="0" />
<rect x="316.60" y="301.00" width="1.60" height="1.60" fill="#c84858" stroke="none" stroke-width="0" />
<line x1="194.60" y1="378.90" x2="194.60" y2="382.30" stroke="#222" stroke-width="0.9" />
<text x="196.80" y="385.00" font-size="6.2" text-anchor="end" textLength="17.60" lengthAdjust="spacingAndGlyphs" transform="rotate(-90 196.80 385.00)" >t(9;22)</text>
<line x1="203.95" y1="378.90" x2="203.95" y2="382.30" stroke="#222" stroke-width="0.9" />
<text x="206.15" y="385.00" font-size="6.2" text-anchor="end" fill="#a62c42" textLength="20.50" lengthAdjust="spacingAndGlyphs" transform="rotate(-90 206.15 385.00)" >t(15;17)</text>
<line x1="213.30" y1="378.90" x2="213.30" y2="382.30" stroke="#222" stroke-width="0.9" />
<text x="215.50" y="385.00" font-size="6.2" text-anchor="end" fill="#a62c42" textLength="19.30" lengthAdjust="spacingAndGlyphs" transform="rotate(-90 215.50 385.00)" >–5/7(q)</text>
<line x1="222.65" y1="378.90" x2="222.65" y2="382.30" stroke="#222" stroke-width="0.9" />
<text x="224.85" y="385.00" font-size="6.2" text-anchor="end" textLength="10.30" lengthAdjust="spacingAndGlyphs" transform="rotate(-90 224.85 385.00)" >–9q</text>
<line x1="232.00" y1="378.90" x2="232.00" y2="382.30" stroke="#222" stroke-width="0.9" />
<text x="234.20" y="385.00" font-size="6.2" text-anchor="end" fill="#a62c42" textLength="16.70" lengthAdjust="spacingAndGlyphs" transform="rotate(-90 234.20 385.00)" >failure</text>
<line x1="241.35" y1="378.90" x2="241.35" y2="382.30" stroke="#222" stroke-width="0.9" />
<text x="243.55" y="385.00" font-size="6.2" text-anchor="end" textLength="13.70" lengthAdjust="spacingAndGlyphs" transform="rotate(-90 243.55 385.00)" >t(6;9)</text>
<line x1="250.70" y1="378.90" x2="250.70" y2="382.30" stroke="#222" stroke-width="0.9" />
<text x="252.90" y="385.00" font-size="6.2" text-anchor="end" textLength="16.60" lengthAdjust="spacingAndGlyphs" transform="rotate(-90 252.90 385.00)" >11q23</text>
<line x1="260.05" y1="378.90" x2="260.05" y2="382.30" stroke="#222" stroke-width="0.9" />
<text x="262.25" y="385.00" font-size="6.2" text-anchor="end" textLength="17.00" lengthAdjust="spacingAndGlyphs" transform="rotate(-90 262.25 385.00)" >idt(16)</text>
<line x1="269.40" y1="378.90" x2="269.40" y2="382.30" stroke="#222" stroke-width="0.9" />
<text x="271.60" y="385.00" font-size="6.2" text-anchor="end" textLength="21.20" lengthAdjust="spacingAndGlyphs" transform="rotate(-90 271.60 385.00)" >abn(3q)</text>
<line x1="278.75" y1="378.90" x2="278.75" y2="382.30" stroke="#222" stroke-width="0.9" />
<text x="280.95" y="385.00" font-size="6.2" text-anchor="end" textLength="8.40" lengthAdjust="spacingAndGlyphs" transform="rotate(-90 280.95 385.00)" >NN</text>
<line x1="288.10" y1="378.90" x2="288.10" y2="382.30" stroke="#222" stroke-width="0.9" />
<text x="290.30" y="385.00" font-size="6.2" text-anchor="end" textLength="36.60" lengthAdjust="spacingAndGlyphs" transform="rotate(-90 290.30 385.00)" >MDS complex</text>
<line x1="297.45" y1="378.90" x2="297.45" y2="382.30" stroke="#222" stroke-width="0.9" />
<text x="299.65" y="385.00" font-size="6.2" text-anchor="end" textLength="19.70" lengthAdjust="spacingAndGlyphs" transform="rotate(-90 299.65 385.00)" >MDS –Y</text>
<line x1="306.80" y1="378.90" x2="306.80" y2="382.30" stroke="#222" stroke-width="0.9" />
<text x="309.00" y="385.00" font-size="6.2" text-anchor="end" textLength="6.80" lengthAdjust="spacingAndGlyphs" transform="rotate(-90 309.00 385.00)" >+8</text>
<line x1="316.15" y1="378.90" x2="316.15" y2="382.30" stroke="#222" stroke-width="0.9" />
<text x="318.35" y="385.00" font-size="6.2" text-anchor="end" fill="#a62c42" textLength="16.40" lengthAdjust="spacingAndGlyphs" transform="rotate(-90 318.35 385.00)" >t(8;21)</text>
<line x1="325.50" y1="378.90" x2="325.50" y2="382.30" stroke="#222" stroke-width="0.9" />
<text x="327.70" y="385.00" font-size="6.2" text-anchor="end" textLength="23.30" lengthAdjust="spacingAndGlyphs" transform="rotate(-90 327.70 385.00)" >Complex</text>
<line x1="334.85" y1="378.90" x2="334.85" y2="382.30" stroke="#222" stroke-width="0.9" />
<text x="337.05" y="385.00" font-size="6.2" text-anchor="end" textLength="27.40" lengthAdjust="spacingAndGlyphs" transform="rotate(-90 337.05 385.00)" >MDS –7(q)</text>
<text x="347.20" y="322.50" font-size="5.2" textLength="19.40" lengthAdjust="spacingAndGlyphs" >CBFA2T3</text>
<text x="347.20" y="329.00" font-size="5.2" textLength="28.60" lengthAdjust="spacingAndGlyphs" >median level</text>
<text x="7.20" y="444.40" font-size="11" textLength="6.30" lengthAdjust="spacingAndGlyphs" >E</text>
<text x="42.70" y="455.80" font-size="8.4" textLength="89.20" lengthAdjust="spacingAndGlyphs" >Effects of RA on CBFA2T3</text>
<text x="48.00" y="466.00" font-size="8.4" textLength="77.80" lengthAdjust="spacingAndGlyphs" >expression (NB4 cells)</text>
<line x1="42.30" y1="473.30" x2="42.30" y2="569.80" stroke="#222" stroke-width="1.2" />
<line x1="41.30" y1="569.20" x2="73.10" y2="569.20" stroke="#222" stroke-width="1.2" />
<line x1="39.20" y1="569.40" x2="42.30" y2="569.40" stroke="#222" stroke-width="1.0" />
<text x="36.30" y="571.75" font-size="6.6" text-anchor="end" fill="#333" textLength="3.20" lengthAdjust="spacingAndGlyphs" >0</text>
<line x1="39.20" y1="555.78" x2="42.30" y2="555.78" stroke="#222" stroke-width="1.0" />
<text x="36.30" y="558.13" font-size="6.6" text-anchor="end" fill="#333" textLength="3.20" lengthAdjust="spacingAndGlyphs" >5</text>
<line x1="39.20" y1="542.16" x2="42.30" y2="542.16" stroke="#222" stroke-width="1.0" />
<text x="36.30" y="544.51" font-size="6.6" text-anchor="end" fill="#333" textLength="6.40" lengthAdjust="spacingAndGlyphs" >10</text>
<line x1="39.20" y1="528.54" x2="42.30" y2="528.54" stroke="#222" stroke-width="1.0" />
<text x="36.30" y="530.89" font-size="6.6" text-anchor="end" fill="#333" textLength="6.40" lengthAdjust="spacingAndGlyphs" >15</text>
<line x1="39.20" y1="514.92" x2="42.30" y2="514.92" stroke="#222" stroke-width="1.0" />
<text x="36.30" y="517.27" font-size="6.6" text-anchor="end" fill="#333" textLength="6.40" lengthAdjust="spacingAndGlyphs" >20</text>
<line x1="39.20" y1="501.30" x2="42.30" y2="501.30" stroke="#222" stroke-width="1.0" />
<text x="36.30" y="503.65" font-size="6.6" text-anchor="end" fill="#333" textLength="6.40" lengthAdjust="spacingAndGlyphs" >25</text>
<line x1="39.20" y1="487.68" x2="42.30" y2="487.68" stroke="#222" stroke-width="1.0" />
<text x="36.30" y="490.03" font-size="6.6" text-anchor="end" fill="#333" textLength="6.40" lengthAdjust="spacingAndGlyphs" >30</text>
<rect x="47.10" y="475.60" width="5.80" height="93.60" fill="#a3304a" stroke="none" stroke-width="0" />
<rect x="55.50" y="520.30" width="5.70" height="48.90" fill="#46608a" stroke="none" stroke-width="0" />
<rect x="63.80" y="535.20" width="5.80" height="34.00" fill="#6aaa50" stroke="none" stroke-width="0" />
<text x="58.30" y="578.60" font-size="6.4" text-anchor="middle" fill="#333" textLength="26.90" lengthAdjust="spacingAndGlyphs" font-style="italic" >GSE50958</text>
<text x="24.50" y="522.30" font-size="8.4" text-anchor="middle" fill="#2a2a2a" textLength="98.80" lengthAdjust="spacingAndGlyphs" transform="rotate(-90 24.50 522.30)" >CBFA2T3 expression (TPMs)</text>
<line x1="105.30" y1="473.10" x2="105.30" y2="569.80" stroke="#222" stroke-width="1.2" />
<line x1="102.50" y1="569.20" x2="135.60" y2="569.20" stroke="#222" stroke-width="1.2" />
<line x1="102.20" y1="569.30" x2="105.30" y2="569.30" stroke="#222" stroke-width="1.0" />
<text x="99.30" y="571.70" font-size="6.8" text-anchor="end" fill="#333" textLength="3.50" lengthAdjust="spacingAndGlyphs" >0</text>
<line x1="102.20" y1="551.62" x2="105.30" y2="551.62" stroke="#222" stroke-width="1.0" />
<text x="99.30" y="554.02" font-size="6.8" text-anchor="end" fill="#333" textLength="7.00" lengthAdjust="spacingAndGlyphs" >10</text>
<line x1="102.20" y1="533.94" x2="105.30" y2="533.94" stroke="#222" stroke-width="1.0" />
<text x="99.30" y="536.34" font-size="6.8" text-anchor="end" fill="#333" textLength="7.00" lengthAdjust="spacingAndGlyphs" >20</text>
<line x1="102.20" y1="516.26" x2="105.30" y2="516.26" stroke="#222" stroke-width="1.0" />
<text x="99.30" y="518.66" font-size="6.8" text-anchor="end" fill="#333" textLength="7.00" lengthAdjust="spacingAndGlyphs" >30</text>
<line x1="102.20" y1="498.58" x2="105.30" y2="498.58" stroke="#222" stroke-width="1.0" />
<text x="99.30" y="500.98" font-size="6.8" text-anchor="end" fill="#333" textLength="7.00" lengthAdjust="spacingAndGlyphs" >40</text>
<line x1="102.20" y1="480.90" x2="105.30" y2="480.90" stroke="#222" stroke-width="1.0" />
<text x="99.30" y="483.30" font-size="6.8" text-anchor="end" fill="#333" textLength="7.00" lengthAdjust="spacingAndGlyphs" >50</text>
<rect x="110.80" y="475.60" width="9.10" height="93.60" fill="#a3304a" stroke="none" stroke-width="0" />
<rect x="121.70" y="541.50" width="9.10" height="27.70" fill="#6aaa50" stroke="none" stroke-width="0" />
<text x="120.70" y="576.60" font-size="6.4" text-anchor="middle" fill="#333" textLength="27.90" lengthAdjust="spacingAndGlyphs" font-style="italic" >GSE93877</text>
<text x="85.30" y="521.60" font-size="8.4" text-anchor="middle" fill="#2a2a2a" textLength="99.50" lengthAdjust="spacingAndGlyphs" transform="rotate(-90 85.30 521.60)" >CBFA2T3 expression (TPMs)</text>
<rect x="142.00" y="500.60" width="9.20" height="8.60" fill="#a3304a" stroke="none" stroke-width="0" />
<rect x="142.00" y="512.60" width="9.20" height="8.60" fill="#46608a" stroke="none" stroke-width="0" />
<rect x="142.00" y="524.60" width="9.20" height="8.80" fill="#6aaa50" stroke="none" stroke-width="0" />
<text x="153.60" y="506.90" font-size="4.8" fill="#333" textLength="15.40" lengthAdjust="spacingAndGlyphs" >Vehicle</text>
<text x="153.60" y="518.90" font-size="4.8" fill="#333" textLength="24.40" lengthAdjust="spacingAndGlyphs" >RA (24 hrs)</text>
<text x="153.60" y="530.90" font-size="4.8" fill="#333" textLength="24.40" lengthAdjust="spacingAndGlyphs" >RA (48 hrs)</text>
<text x="196.20" y="444.20" font-size="11" textLength="5.40" lengthAdjust="spacingAndGlyphs" >F</text>
<circle cx="285.3" cy="507.6" r="43.2" fill="none" stroke="#b8485c" stroke-width="1.05"/>
<circle cx="269.5" cy="530.5" r="36.4" fill="none" stroke="#80b860" stroke-width="1.05"/>
<circle cx="304.3" cy="535.7" r="37.1" fill="none" stroke="#5070a0" stroke-width="1.05"/>
<text x="254.60" y="460.40" font-size="6.4" textLength="61.00" lengthAdjust="spacingAndGlyphs" >Low-CBFA2T3 non-CBF</text>
<text x="284.40" y="483.00" font-size="6.4" text-anchor="middle" >60</text>
<text x="258.60" y="518.90" font-size="6.4" text-anchor="middle" >47</text>
<text x="287.50" y="530.70" font-size="6.4" text-anchor="middle" >40</text>
<text x="313.70" y="519.80" font-size="6.4" text-anchor="middle" >35</text>
<text x="251.20" y="550.70" font-size="6.4" text-anchor="middle" >27</text>
<text x="282.90" y="558.40" font-size="6.4" text-anchor="middle" >14</text>
<text x="319.40" y="554.30" font-size="6.4" text-anchor="middle" >44</text>
<text x="196.20" y="532.50" font-size="6.4" textLength="30.30" lengthAdjust="spacingAndGlyphs" >FAB M4/M5</text>
<text x="343.20" y="534.10" font-size="6.4" textLength="42.00" lengthAdjust="spacingAndGlyphs" >Cytogenetically</text>
<text x="354.60" y="541.50" font-size="6.4" textLength="19.50" lengthAdjust="spacingAndGlyphs" >Normal</text>
<rect x="0" y="1" width="520" height="1" fill="#9a9a9a"/>
<rect x="1" y="0" width="1" height="586" fill="#8c8c8c"/>
<rect x="0" y="0" width="520" height="1" fill="#4d4d4d"/>
<rect x="0" y="0" width="1" height="586" fill="#474747"/>
<rect x="518" y="0" width="1" height="586" fill="#d0d0d0"/>
<rect x="0" y="584" width="520" height="1" fill="#d0d0d0"/>
<rect x="519" y="0" width="1" height="586" fill="#111"/>
<rect x="0" y="585" width="520" height="1" fill="#111"/>
</svg>
</body></html>
